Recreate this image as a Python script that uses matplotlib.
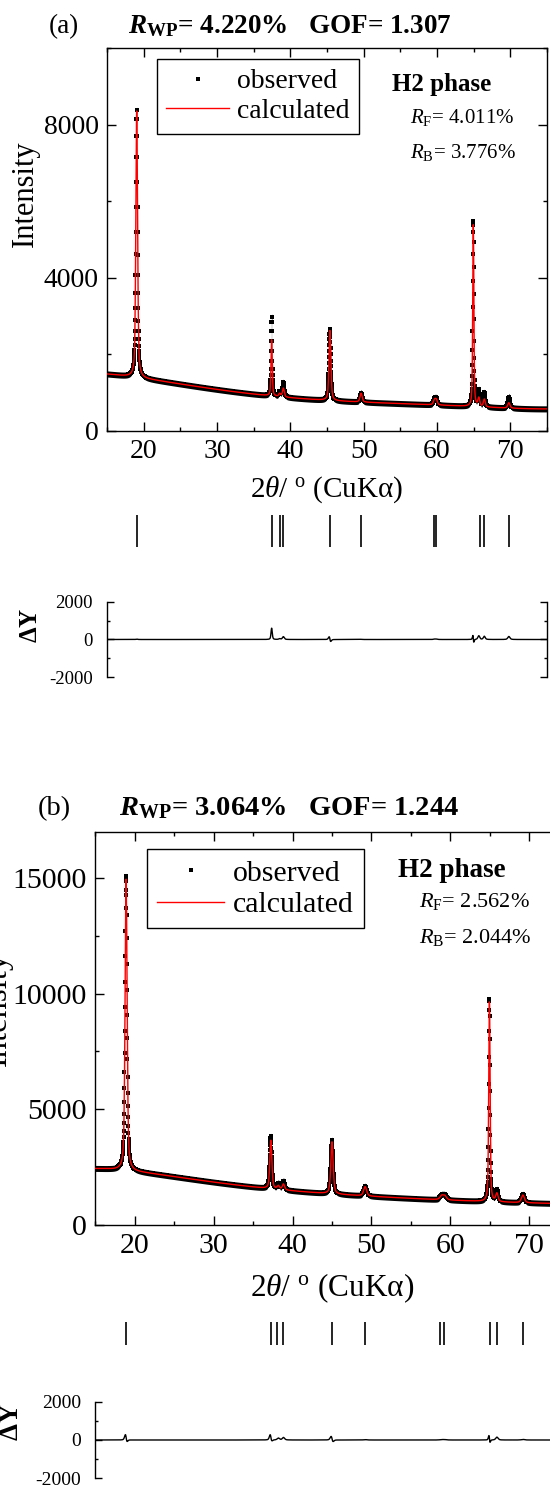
import numpy as np
import matplotlib
matplotlib.use("Agg")
import matplotlib.pyplot as plt
from matplotlib.ticker import MultipleLocator

plt.rcParams["font.family"] = ["Liberation Serif", "DejaVu Serif"]
plt.rcParams["mathtext.fontset"] = "custom"
plt.rcParams["mathtext.rm"] = "Liberation Serif"
plt.rcParams["mathtext.it"] = "Liberation Serif:italic"
plt.rcParams["mathtext.bf"] = "Liberation Serif:bold"
plt.rcParams["mathtext.bfit"] = "Liberation Serif:italic:bold"
plt.rcParams["axes.unicode_minus"] = False

W, H = 550, 1487

two_theta = np.arange(15.0, 75.0001, 0.02)

# ---- sample (a) ----
bkg_a_x = [15, 17, 20, 22.5, 25, 27.5, 30, 32.5, 35, 37, 40, 42.5, 45, 47.5, 50, 55, 60, 65, 70, 75]
bkg_a_y = [1480, 1440, 1360, 1290, 1230, 1150, 1070, 1010, 960, 930, 860, 820, 790, 770, 750, 710, 670, 630, 590, 570]
peaks_a_pos = [19.05, 37.45, 38.55, 39.05, 45.4, 49.65, 59.65, 59.9, 64.95, 65.7, 66.45, 69.8]
peaks_a_pos_obs = [19.05, 37.45, 38.55, 39.05, 45.385, 49.65, 59.65, 59.9, 64.945, 65.7, 66.45, 69.8]
peaks_a_fwhm = [0.28, 0.2, 0.3, 0.3, 0.3, 0.35, 0.35, 0.35, 0.18, 0.3, 0.3, 0.35]
peaks_a_calc = [7000, 1480, 80, 230, 1830, 230, 120, 130, 4800, 220, 200, 140]
peaks_a_obs = [7020, 2080, 120, 380, 1860, 240, 140, 150, 4850, 420, 370, 300]
marks_a = [19.05, 37.5, 38.65, 39.0, 45.45, 49.65, 59.6, 59.9, 65.8, 66.45, 69.8]

# ---- sample (b) ----
bkg_b_x = [15, 17, 18, 20, 22.5, 25, 27.5, 30, 32.5, 35, 37, 40, 42.5, 44, 47.5, 50, 55, 60, 65, 70, 75]
bkg_b_y = [2450, 2400, 2370, 2280, 2200, 2130, 2000, 1860, 1720, 1610, 1560, 1460, 1430, 1410, 1290, 1230, 1140, 1070, 1010, 960, 920]
peaks_b_pos = [18.9, 37.25, 38.2, 38.85, 45.0, 49.2, 58.9, 59.3, 64.95, 65.9, 69.2]
peaks_b_pos_obs = [18.897, 37.235, 38.2, 38.85, 44.985, 49.2, 58.9, 59.3, 64.947, 65.9, 69.2]
peaks_b_fwhm = [0.3, 0.3, 0.35, 0.35, 0.35, 0.45, 0.5, 0.5, 0.2, 0.35, 0.45]
peaks_b_calc = [12600, 2100, 150, 250, 2250, 400, 170, 170, 8700, 350, 330]
peaks_b_obs = [12750, 2270, 250, 380, 2330, 420, 190, 190, 8780, 500, 360]
marks_b = [18.9, 37.23, 38.08, 38.84, 45.0, 49.2, 58.75, 59.2, 64.98, 65.9, 69.2]


def background(xs, ys):
    # Chebyshev background through the refined levels
    cheb = np.polynomial.Chebyshev.fit(xs, ys, 6)
    return cheb(two_theta)


def profile(pos, hgt, fwhm, eta=0.5):
    y = np.zeros_like(two_theta)
    for p, h, w in zip(pos, hgt, fwhm):
        d = (two_theta - p) / w
        y += h * (eta / (1 + 4 * d ** 2) + (1 - eta) * np.exp(-4 * np.log(2) * d ** 2))
    return y


def box(x0, x1, y0, y1):
    return [x0 / W, 1 - y1 / H, (x1 - x0) / W, (y1 - y0) / H]


def fig_text(x, y, s, **kw):
    fig.text(x / W, 1 - y / H, s, **kw)


def panel(cfg):
    bkg = background(cfg["bkg_x"], cfg["bkg_y"])
    calc = bkg + profile(cfg["pos"], cfg["calc"], cfg["fwhm"])
    obs = bkg + profile(cfg["pos_obs"], cfg["obs"], cfg["fwhm"])
    x0, x1 = cfg["xpix"]
    fs = cfg["fs"]

    ax = fig.add_axes(box(x0, x1, *cfg["main"]))
    band = cfg["band"]
    ax.fill_between(two_theta, obs - band, obs + band, color="black", lw=0, zorder=1)
    ax.plot(two_theta, obs, "s", color="black", ms=2.2, mew=0, zorder=2, label="observed")
    ax.plot(two_theta, calc, "-", color="red", lw=1.0, zorder=3, label="calculated")
    ax.set_xlim(15, 75)
    ax.set_ylim(0, cfg["ymax"])
    ax.xaxis.set_major_locator(MultipleLocator(10))
    ax.xaxis.set_minor_locator(MultipleLocator(5))
    ax.yaxis.set_major_locator(MultipleLocator(cfg["ymajor"]))
    ax.yaxis.set_minor_locator(MultipleLocator(cfg["ymajor"] / 2))
    ax.tick_params(which="both", direction="in", top=True, right=True, labelsize=fs, width=1)
    ax.tick_params(which="major", length=6.5, pad=6)
    ax.tick_params(which="minor", length=3.2)
    for s in ax.spines.values():
        s.set_linewidth(1)

    lx, ly = cfg["legend"]
    leg = ax.legend(loc="upper left", bbox_to_anchor=(lx / W, 1 - ly / H),
                    bbox_transform=fig.transFigure, borderaxespad=0, fontsize=fs,
                    numpoints=1, handlelength=2.25, handletextpad=0.3, borderpad=0.35,
                    labelspacing=0.15, fancybox=False, framealpha=1, markerscale=1.4)
    leg.get_frame().set_edgecolor("black")
    leg.get_frame().set_linewidth(1)

    axm = fig.add_axes(box(x0, x1, *cfg["marks"]))
    axm.vlines(cfg["refl"], 0, 1, color="black", lw=1.2)
    axm.set_xlim(15, 75)
    axm.set_ylim(0, 1)
    axm.axis("off")

    axd = fig.add_axes(box(x0, x1, *cfg["diff"]))
    axd.plot(two_theta, obs - calc, color="black", lw=1.0)
    axd.set_xlim(15, 75)
    axd.set_ylim(-2000, 2000)
    axd.spines["top"].set_visible(False)
    axd.spines["bottom"].set_visible(False)
    for s in ("left", "right"):
        axd.spines[s].set_linewidth(1)
    axd.tick_params(axis="x", bottom=False, labelbottom=False)
    axd.yaxis.set_major_locator(MultipleLocator(2000))
    axd.yaxis.set_minor_locator(MultipleLocator(1000))
    axd.tick_params(axis="y", which="both", direction="in", left=True, right=True,
                    labelsize=cfg["fs_diff"], width=1, pad=10)
    axd.tick_params(axis="y", which="major", length=5.3)
    axd.tick_params(axis="y", which="minor", length=2.4)

    # annotations
    t = cfg["text"]
    fig_text(t["tag"][0], t["tag"][1], cfg["tag"], fontsize=cfg["fs_title"], ha="center", va="baseline")
    fig_text(t["title"][0], t["title"][1],
             r"$\mathbfit{R}_{\mathbf{WP}}$" + cfg["title"],
             fontsize=cfg["fs_title"], fontweight="bold", ha="left", va="baseline")
    fig_text(t["phase"][0], t["phase"][1], "H2 phase", fontsize=cfg["fs_phase"],
             fontweight="bold", ha="left", va="baseline")
    fig_text(t["rf"][0], t["rf"][1], r"$\mathit{R}_{\mathrm{F}}$" + cfg["rf"],
             fontsize=cfg["fs_r"], ha="left", va="baseline")
    fig_text(t["rb"][0], t["rb"][1], r"$\mathit{R}_{\mathrm{B}}$" + cfg["rb"],
             fontsize=cfg["fs_r"], ha="left", va="baseline")
    fig_text(t["xlabel"][0], t["xlabel"][1], r"2$\mathit{\theta}$/ $^{\mathrm{o}}$ (CuK$\mathrm{\alpha}$)",
             fontsize=cfg["fs_label"], ha="center", va="baseline")
    fig_text(t["ylabel"][0], t["ylabel"][1], "Intensity", fontsize=cfg["fs_ylabel"],
             rotation=90, ha="center", va="center")
    fig_text(t["dy"][0], t["dy"][1], r"$\mathbf{\Delta}$Y", fontsize=cfg["fs_dy"],
             fontweight="bold", rotation=90, ha="center", va="center")


fig = plt.figure(figsize=(W / 100, H / 100), dpi=100)

panel(dict(
    bkg_x=bkg_a_x, bkg_y=bkg_a_y, pos=peaks_a_pos, pos_obs=peaks_a_pos_obs,
    fwhm=peaks_a_fwhm, calc=peaks_a_calc, obs=peaks_a_obs, refl=marks_a,
    xpix=(107, 547), main=(48.3, 430.7), marks=(515, 547.3), diff=(601.7, 677.3),
    ymax=10000, ymajor=4000, band=80, legend=(156.7, 59.3),
    fs=20, fs_label=21, fs_ylabel=22, fs_title=19.5, fs_phase=18, fs_r=15,
    fs_dy=18, fs_diff=13.5,
    tag="(a)", title="= 4.220%   GOF= 1.307", rf="= 4.011%", rb="= 3.776%",
    text=dict(tag=(64, 32.7), title=(128, 32.7), phase=(391.7, 91), rf=(410, 122.7),
              rb=(410, 157.7), xlabel=(327, 496.7), ylabel=(25, 194), dy=(30.7, 625)),
))

panel(dict(
    bkg_x=bkg_b_x, bkg_y=bkg_b_y, pos=peaks_b_pos, pos_obs=peaks_b_pos_obs,
    fwhm=peaks_b_fwhm, calc=peaks_b_calc, obs=peaks_b_obs, refl=marks_b,
    xpix=(95.3, 568.7), main=(831.7, 1225), marks=(1321.7, 1345), diff=(1401.7, 1478.3),
    ymax=17000, ymajor=5000, band=130, legend=(146.5, 849.3),
    fs=21.5, fs_label=22.5, fs_ylabel=23.5, fs_title=20.5, fs_phase=19.5, fs_r=16,
    fs_dy=19.5, fs_diff=14,
    tag="(b)", title="= 3.064%   GOF= 1.244", rf="= 2.562%", rb="= 2.044%",
    text=dict(tag=(54, 815), title=(119, 815), phase=(397.8, 877), rf=(419, 906.7),
              rb=(419, 943.3), xlabel=(332, 1296.7), ylabel=(-2, 1009), dy=(11.4, 1421.7)),
))

fig.savefig("out.png", dpi=100)
